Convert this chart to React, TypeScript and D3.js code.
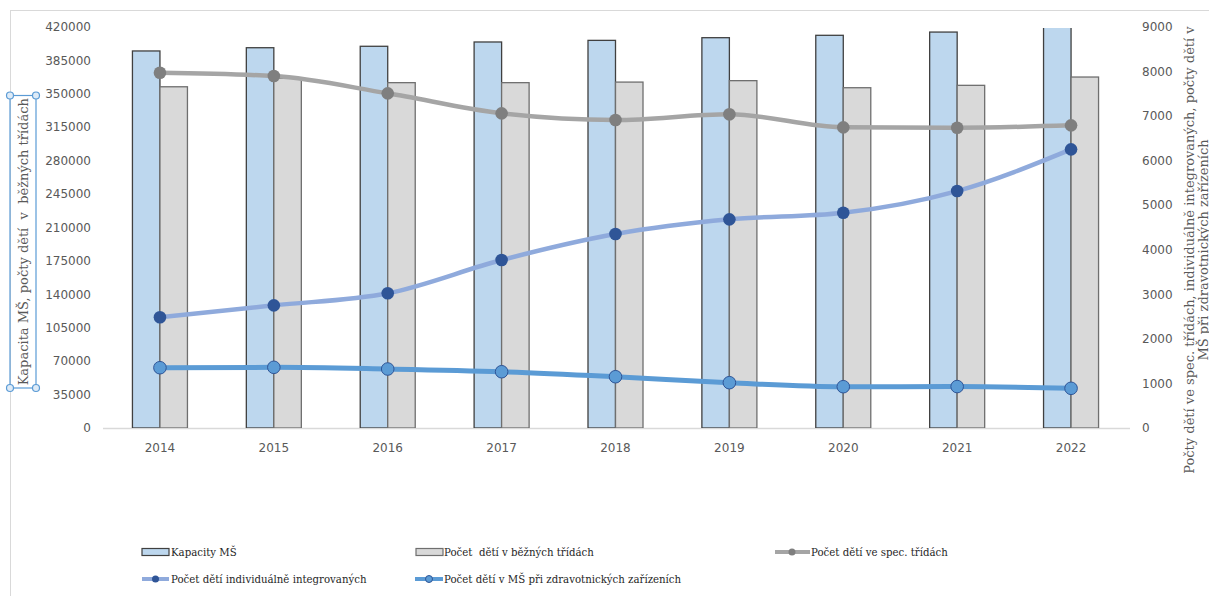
import React from "react";
import * as d3 from "d3";

const years = ["2014", "2015", "2016", "2017", "2018", "2019", "2020", "2021", "2022"];
const kapacity = [394900, 398300, 399800, 404300, 406000, 408800, 411300, 414700, 421000];
const bezneTridy = [357400, 366200, 361700, 361700, 362300, 363800, 356400, 358900, 367600];
const specTridy = [7973, 7899, 7511, 7062, 6912, 7040, 6748, 6739, 6793];
const integrovani = [2484, 2753, 3023, 3770, 4353, 4683, 4831, 5318, 6254];
const zdravotnicka = [1353, 1362, 1324, 1263, 1151, 1017, 927, 930, 891];
const leftTicks = [0, 35000, 70000, 105000, 140000, 175000, 210000, 245000, 280000, 315000, 350000, 385000, 420000];
const rightTicks = [0, 1000, 2000, 3000, 4000, 5000, 6000, 7000, 8000, 9000];

const leftTitle = "Kapacita MŠ, počty dětí  v  běžných třídách";
const rightTitle1 = "Počty dětí ve spec. třídách, individuálně integrovaných, počty dětí v";
const rightTitle2 = "MŠ při zdravotnických zařízeních";
const legendNames = [
  "Kapacity MŠ",
  "Počet  dětí v běžných třídách",
  "Počet dětí ve spec. třídách",
  "Počet dětí individuálně integrovaných",
  "Počet dětí v MŠ při zdravotnických zařízeních",
];

export default function App() {
  React.useEffect(() => {
    document.body.style.margin = "0";
  }, []);
  const W = 1209, H = 596;
  const x0 = 103, x1 = 1128, yTop = 27, yBot = 428;
  const x = d3.scaleBand<string>().domain(years).range([x0, x1]).padding(0);
  const yL = d3.scaleLinear().domain([0, 420000]).range([yBot, yTop]);
  const yR = d3.scaleLinear().domain([0, 9000]).range([yBot, yTop]);
  const bw = x.bandwidth() * 0.2415;
  const cx = (y: string) => (x(y) as number) + x.bandwidth() / 2;
  const line = (vals: number[]) =>
    d3.line<number>().x((_, i) => cx(years[i])).y((v) => yR(v)).curve(d3.curveMonotoneX)(vals) || "";
  const tickFont = { fontFamily: "'DejaVu Sans', sans-serif", fontSize: 12, fill: "#595959" };
  const serif = "'DejaVu Serif', serif";
  const legFont = { fontFamily: serif, fontSize: 10.2, fill: "#262626", whiteSpace: "pre" as const };
  const boxX0 = 10, boxX1 = 36, boxY0 = 95.5, boxY1 = 388;
  return (
    <svg width={W} height={H} style={{ position: "absolute", left: 0, top: 0, background: "#fff" }}>
      <rect x={10.5} y={10.5} width={1300} height={700} fill="none" stroke="#d9d9d9" />
      <defs>
        <clipPath id="plotclip">
          <rect x={x0 - 5} y={28} width={x1 - x0 + 10} height={yBot - 28} />
        </clipPath>
      </defs>
      {/* baseline */}
      <line x1={x0} x2={1130} y1={yBot + 0.5} y2={yBot + 0.5} stroke="#d9d9d9" strokeWidth={1.5} />
      {/* bars */}
      <g clipPath="url(#plotclip)">
        {years.map((yr, i) => (
          <g key={yr}>
            <rect x={cx(yr) - bw} y={yL(kapacity[i])} width={bw} height={yBot - yL(kapacity[i])}
              fill="#bdd7ee" stroke="#404040" strokeWidth={1.3} />
            <rect x={cx(yr)} y={yL(bezneTridy[i])} width={bw} height={yBot - yL(bezneTridy[i])}
              fill="#d9d9d9" stroke="#6f6f6f" strokeWidth={1.3} />
          </g>
        ))}
      </g>
      {/* lines */}
      <path d={line(specTridy)} fill="none" stroke="#a5a5a5" strokeWidth={4.5} strokeLinecap="round" strokeLinejoin="round" />
      {years.map((yr, i) => (
        <circle key={"s" + yr} cx={cx(yr)} cy={yR(specTridy[i])} r={6.3} fill="#7f7f7f" />
      ))}
      <path d={line(integrovani)} fill="none" stroke="#8faadc" strokeWidth={4.5} strokeLinecap="round" strokeLinejoin="round" />
      {years.map((yr, i) => (
        <circle key={"i" + yr} cx={cx(yr)} cy={yR(integrovani[i])} r={6.3} fill="#2f5597" />
      ))}
      <path d={line(zdravotnicka)} fill="none" stroke="#5b9bd5" strokeWidth={5} strokeLinecap="round" strokeLinejoin="round" />
      {years.map((yr, i) => (
        <circle key={"z" + yr} cx={cx(yr)} cy={yR(zdravotnicka[i])} r={6.3} fill="#5b9bd5" stroke="#2f5597" strokeWidth={1} />
      ))}
      {/* left ticks */}
      {leftTicks.map((t) => (
        <text key={"l" + t} x={91} y={yL(t)} dy="0.35em" textAnchor="end" style={tickFont}>{t}</text>
      ))}
      {rightTicks.map((t) => (
        <text key={"r" + t} x={1142} y={yR(t)} dy="0.35em" textAnchor="start" style={tickFont}>{t}</text>
      ))}
      {years.map((yr) => (
        <text key={"x" + yr} x={cx(yr)} y={448} dy="0.35em" textAnchor="middle" style={tickFont}>{yr}</text>
      ))}
      {/* left title with selection box */}
      <rect x={boxX0} y={boxY0} width={boxX1 - boxX0} height={boxY1 - boxY0} fill="none" stroke="#5b9bd5" strokeWidth={1.2} />
      {[[boxX0, boxY0], [boxX1, boxY0], [boxX0, boxY1], [boxX1, boxY1]].map(([a, b], i) => (
        <circle key={"h" + i} cx={a} cy={b} r={3.5} fill="#deebf7" stroke="#5b9bd5" strokeWidth={1.2} />
      ))}
      <text transform={`translate(${(boxX0 + boxX1) / 2},${(boxY0 + boxY1) / 2}) rotate(-90)`} textAnchor="middle" dy="0.35em"
        style={{ fontFamily: serif, fontSize: 13, fill: "#595959", whiteSpace: "pre" }}>{leftTitle}</text>
      {/* right title */}
      <text transform={`translate(1189,250) rotate(-90)`} textAnchor="middle"
        style={{ fontFamily: serif, fontSize: 13, fill: "#595959" }}>
        <tspan x={0} dy="0.35em">{rightTitle1}</tspan>
        <tspan x={0} dy="1.1em">{rightTitle2}</tspan>
      </text>
      {/* legend */}
      <rect x={142} y={548.5} width={27} height={7} fill="#bdd7ee" stroke="#404040" strokeWidth={1.2} />
      <text x={171} y={552.5} dy="0.35em" style={legFont}>{legendNames[0]}</text>
      <rect x={416} y={548.5} width={27} height={7} fill="#d9d9d9" stroke="#6f6f6f" strokeWidth={1.2} />
      <text x={444} y={552.5} dy="0.35em" style={legFont}>{legendNames[1]}</text>
      <line x1={775} x2={810} y1={552} y2={552} stroke="#a5a5a5" strokeWidth={4} />
      <circle cx={792} cy={552} r={3.5} fill="#7f7f7f" />
      <text x={811} y={552.5} dy="0.35em" style={legFont}>{legendNames[2]}</text>
      <line x1={142} x2={169} y1={579} y2={579} stroke="#8faadc" strokeWidth={4} />
      <circle cx={155.5} cy={579} r={3.5} fill="#2f5597" />
      <text x={171} y={579.5} dy="0.35em" style={legFont}>{legendNames[3]}</text>
      <line x1={415} x2={443} y1={579} y2={579} stroke="#5b9bd5" strokeWidth={4} />
      <circle cx={429} cy={579} r={3.5} fill="#5b9bd5" stroke="#2f5597" strokeWidth={1} />
      <text x={444} y={579.5} dy="0.35em" style={legFont}>{legendNames[4]}</text>
    </svg>
  );
}
